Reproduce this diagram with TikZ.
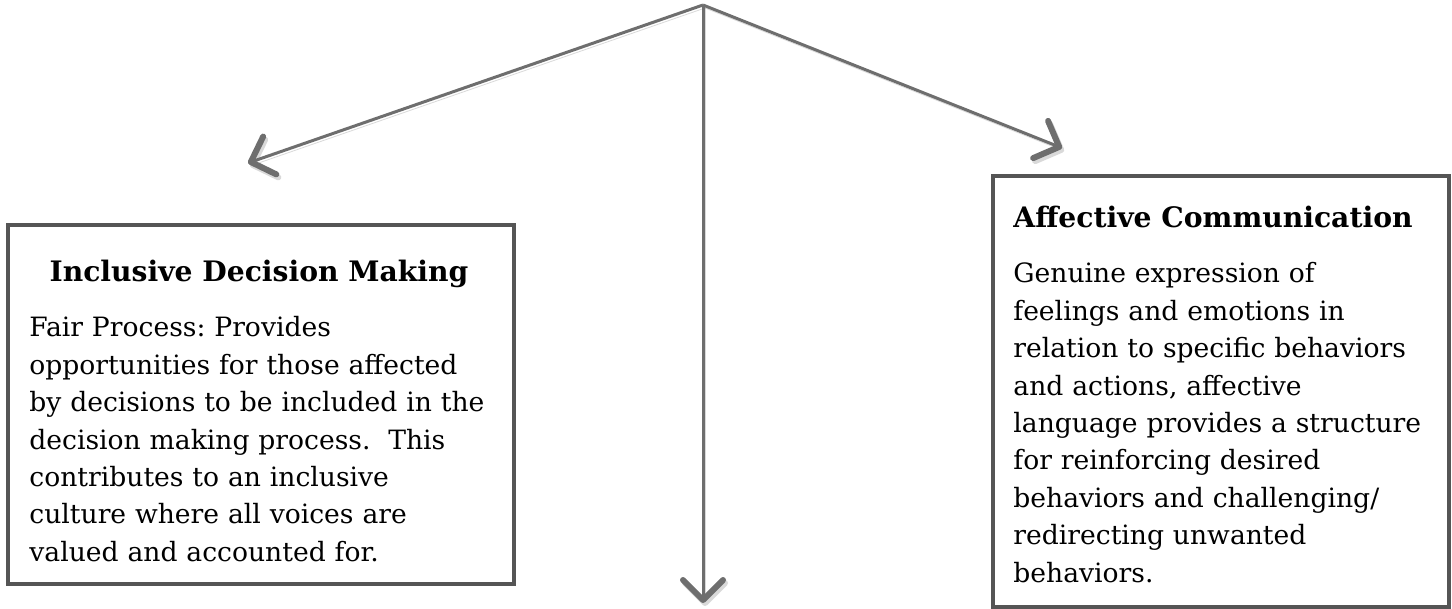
\documentclass[tikz,border=0pt]{standalone}
\usepackage{fontspec}
\setmainfont{DejaVu Serif}
\usetikzlibrary{arrows.meta,positioning}
\definecolor{framegray}{HTML}{555555}
\definecolor{arrowgray}{HTML}{6E6E6E}

\begin{document}
\begin{tikzpicture}[x=0.5pt, y=-0.5pt,
    panel/.style = {draw=framegray, line width=2pt, inner sep=0pt, anchor=north west},
    heading/.style = {font=\bfseries\fontsize{14.1}{17}\selectfont, inner sep=0pt},
    blurb/.style = {font=\fontsize{13.3}{18.7}\selectfont\frenchspacing, align=left, text width=#1,
                    inner sep=0pt, anchor=base west},
    branch/.style = {draw=arrowgray, line width=1.5pt,
                     -{Straight Barb[length=10pt, width=20pt, line width=3pt 0, round]},
                     preaction={draw=black, opacity=0.15,
                                transform canvas={xshift=1pt, yshift=-1.5pt}}}]
              \useasboundingbox (0,0) rectangle (1452,609);

              \coordinate (apex) at (703,5);
              \coordinate (idmtip) at (248,163);
              \coordinate (actip) at (1062,148);
              \coordinate (downtip) at (703,603);

              \node[panel, minimum width=253pt, minimum height=179.5pt] (idmbox) at (6,223) {};
              \node[panel, minimum width=228pt, minimum height=215.5pt] (acbox) at (991,174) {};

              \node[heading, anchor=base] (idmtitle) at (259,282) {Inclusive Decision Making};
              \node[heading, anchor=base west] (actitle) at (1013,228) {Affective Communication};

              \node[blurb=240pt] (idmtext) at (29,337) {Fair Process: Provides\\
                opportunities for those affected\\
                by decisions to be included in the\\
                decision making process.\ \ This\\
                contributes to an inclusive\\
                culture where all voices are\\
                valued and accounted for.};

              \node[blurb=215pt] (actext) at (1013,283) {Genuine expression of\\
                feelings and emotions in\\
                relation to specific behaviors\\
                and actions, affective\\
                language provides a structure\\
                for reinforcing desired\\
                behaviors and challenging/\\
                redirecting unwanted\\
                behaviors.};

              \draw[branch] (apex) -- (idmtip);
              \draw[branch] (apex) -- (actip);
              \draw[branch] (apex) -- (downtip);
            \end{tikzpicture}
\end{document}
